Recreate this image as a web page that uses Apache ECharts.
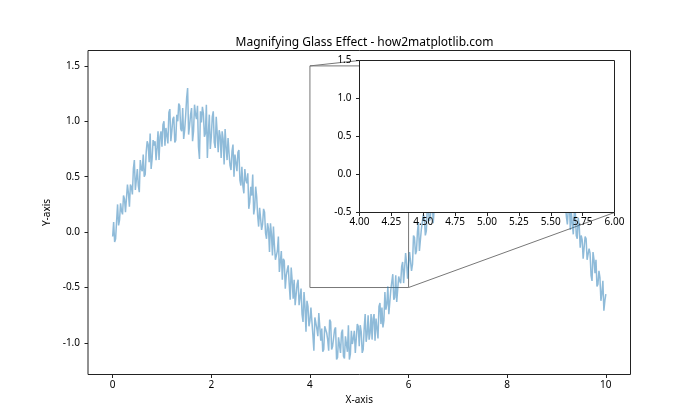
<!DOCTYPE html>
<html><head><meta charset="utf-8">
<script src="https://cdn.jsdelivr.net/npm/echarts@6/dist/echarts.min.js"></script>
<style>html,body{margin:0;padding:0;background:#fff}#c{width:700px;height:420px}</style>
</head><body><div id="c"></div>
<script>
const xs = [
0,0.02,0.04,0.06,0.08,0.1,0.12,0.14,0.16,0.18,0.2,0.22,0.24,0.26,0.28,0.3,0.32,0.34,0.36,0.38,0.4,0.42,0.44,0.46,0.48,0.5,0.52,0.54,0.56,0.58,0.6,0.62,0.64,0.66,0.68,0.7,0.72,0.74,0.76,0.78,0.8,0.82,0.84,0.86,0.88,0.9,0.92,0.94,0.96,0.98,
1,1.02,1.04,1.06,1.08,1.1,1.12,1.14,1.16,1.18,1.2,1.22,1.24,1.26,1.28,1.3,1.32,1.34,1.36,1.38,1.4,1.42,1.44,1.46,1.48,1.5,1.52,1.54,1.56,1.58,1.6,1.62,1.64,1.66,1.68,1.7,1.72,1.74,1.76,1.78,1.8,1.82,1.84,1.86,1.88,1.9,1.92,1.94,1.96,1.98,
2,2.02,2.04,2.06,2.08,2.1,2.12,2.14,2.16,2.18,2.2,2.22,2.24,2.26,2.28,2.3,2.32,2.34,2.36,2.38,2.4,2.42,2.44,2.46,2.48,2.5,2.52,2.54,2.56,2.58,2.6,2.62,2.64,2.66,2.68,2.7,2.72,2.74,2.76,2.78,2.8,2.82,2.84,2.86,2.88,2.9,2.92,2.94,2.96,2.98,
3,3.02,3.04,3.06,3.08,3.1,3.12,3.14,3.16,3.18,3.2,3.22,3.24,3.26,3.28,3.3,3.32,3.34,3.36,3.38,3.4,3.42,3.44,3.46,3.48,3.5,3.52,3.54,3.56,3.58,3.6,3.62,3.64,3.66,3.68,3.7,3.72,3.74,3.76,3.78,3.8,3.82,3.84,3.86,3.88,3.9,3.92,3.94,3.96,3.98,
4,4.02,4.04,4.06,4.08,4.1,4.12,4.14,4.16,4.18,4.2,4.22,4.24,4.26,4.28,4.3,4.32,4.34,4.36,4.38,4.4,4.42,4.44,4.46,4.48,4.5,4.52,4.54,4.56,4.58,4.6,4.62,4.64,4.66,4.68,4.7,4.72,4.74,4.76,4.78,4.8,4.82,4.84,4.86,4.88,4.9,4.92,4.94,4.96,4.98,
5,5.02,5.04,5.06,5.08,5.1,5.12,5.14,5.16,5.18,5.2,5.22,5.24,5.26,5.28,5.3,5.32,5.34,5.36,5.38,5.4,5.42,5.44,5.46,5.48,5.5,5.52,5.54,5.56,5.58,5.6,5.62,5.64,5.66,5.68,5.7,5.72,5.74,5.76,5.78,5.8,5.82,5.84,5.86,5.88,5.9,5.92,5.94,5.96,5.98,
6,6.02,6.04,6.06,6.08,6.1,6.12,6.14,6.16,6.18,6.2,6.22,6.24,6.26,6.28,6.3,6.32,6.34,6.36,6.38,6.4,6.42,6.44,6.46,6.48,6.5,6.52,6.54,6.56,6.58,6.6,6.62,6.64,6.66,6.68,6.7,6.72,6.74,6.76,6.78,6.8,6.82,6.84,6.86,6.88,6.9,6.92,6.94,6.96,6.98,
7,7.02,7.04,7.06,7.08,7.1,7.12,7.14,7.16,7.18,7.2,7.22,7.24,7.26,7.28,7.3,7.32,7.34,7.36,7.38,7.4,7.42,7.44,7.46,7.48,7.5,7.52,7.54,7.56,7.58,7.6,7.62,7.64,7.66,7.68,7.7,7.72,7.74,7.76,7.78,7.8,7.82,7.84,7.86,7.88,7.9,7.92,7.94,7.96,7.98,
8,8.02,8.04,8.06,8.08,8.1,8.12,8.14,8.16,8.18,8.2,8.22,8.24,8.26,8.28,8.3,8.32,8.34,8.36,8.38,8.4,8.42,8.44,8.46,8.48,8.5,8.52,8.54,8.56,8.58,8.6,8.62,8.64,8.66,8.68,8.7,8.72,8.74,8.76,8.78,8.8,8.82,8.84,8.86,8.88,8.9,8.92,8.94,8.96,8.98,
9,9.02,9.04,9.06,9.08,9.1,9.12,9.14,9.16,9.18,9.2,9.22,9.24,9.26,9.28,9.3,9.32,9.34,9.36,9.38,9.4,9.42,9.44,9.46,9.48,9.5,9.52,9.54,9.56,9.58,9.6,9.62,9.64,9.66,9.68,9.7,9.72,9.74,9.76,9.78,9.8,9.82,9.84,9.86,9.88,9.9,9.92,9.94,9.96,9.98,
10
];
const ys = [
-0.04,0.09,-0.09,-0.06,0.10,0.25,0.06,0.11,0.26,0.19,0.16,0.33,0.30,0.18,0.17,0.43,0.35,0.23,0.43,0.41,0.34,0.57,0.65,0.38,0.47,0.57,0.42,0.36,0.65,0.57,0.55,0.70,0.50,0.52,0.72,0.82,0.79,0.63,0.89,0.57,0.66,0.83,0.78,0.82,0.65,0.76,0.91,0.65,0.86,0.91,
0.77,0.97,1.00,0.78,0.94,0.93,0.80,1.08,1.11,0.82,0.91,1.02,1.04,0.81,0.83,1.06,1.00,1.16,1.14,0.93,0.91,1.12,0.84,0.92,1.05,1.21,1.30,0.88,0.96,1.06,1.12,0.82,0.91,1.15,1.06,1.02,1.14,0.77,0.66,1.09,0.99,1.13,1.07,0.86,0.89,1.15,0.67,0.89,1.06,0.75,
0.86,1.04,1.09,0.81,0.76,1.04,0.89,0.72,0.92,0.87,0.67,0.91,0.84,0.61,0.93,0.77,0.65,0.85,0.71,0.60,0.56,0.73,0.79,0.50,0.70,0.70,0.55,0.72,0.74,0.47,0.42,0.59,0.42,0.35,0.57,0.47,0.44,0.53,0.21,0.27,0.41,0.33,0.52,0.16,0.22,0.41,0.32,0.15,0.05,0.22,
0.23,0.02,0.07,0.21,0.18,-0.01,-0.06,0.08,0.03,-0.18,0.08,-0.02,-0.21,0.05,-0.12,-0.25,-0.24,-0.17,-0.04,-0.36,-0.35,-0.17,-0.43,-0.24,-0.26,-0.51,-0.39,-0.34,-0.30,-0.47,-0.61,-0.32,-0.44,-0.60,-0.43,-0.66,-0.67,-0.47,-0.43,-0.66,-0.66,-0.51,-0.74,-0.81,-0.54,-0.67,-0.90,-0.62,-0.67,-0.85,
-0.80,-0.68,-0.67,-0.93,-1.07,-0.77,-0.76,-0.87,-0.94,-0.73,-0.74,-0.98,-0.87,-1.08,-1.06,-0.85,-0.84,-0.91,-0.97,-1.07,-0.79,-0.81,-1.06,-1.03,-1.02,-0.88,-0.86,-1.15,-1.13,-0.95,-0.95,-1.09,-0.91,-0.88,-1.12,-1.14,-0.94,-0.94,-1.08,-0.84,-1.15,-1.10,-0.89,-1.01,-0.96,-0.89,-1.09,-1.10,-0.83,-0.85,
-1.03,-0.84,-0.90,-1.09,-1.06,-0.87,-0.74,-0.99,-0.92,-0.75,-0.97,-0.91,-0.74,-0.97,-0.78,-0.74,-0.98,-0.78,-0.77,-0.96,-0.67,-0.64,-0.83,-0.68,-0.86,-0.80,-0.54,-0.70,-0.65,-0.49,-0.74,-0.73,-0.52,-0.51,-0.38,-0.61,-0.59,-0.39,-0.63,-0.62,-0.40,-0.44,-0.46,-0.31,-0.27,-0.46,-0.45,-0.19,-0.28,-0.42,
-0.42,-0.18,-0.18,-0.35,-0.29,-0.03,-0.05,-0.20,-0.17,0.00,0.09,-0.17,-0.16,0.03,0.03,0.16,0.13,-0.03,0.01,0.22,0.25,0.10,0.12,0.25,0.28,0.08,0.09,0.36,0.37,0.22,0.33,0.49,0.24,0.40,0.53,0.31,0.36,0.53,0.51,0.33,0.36,0.64,0.62,0.50,0.72,0.60,0.51,0.73,0.66,0.55,
0.74,0.60,0.59,0.84,0.83,0.61,0.71,0.85,0.83,0.75,0.65,0.92,0.92,0.68,0.88,0.91,0.77,1.00,1.03,0.79,0.84,0.95,0.94,0.84,0.81,1.11,1.04,0.82,1.13,0.98,0.92,1.07,0.87,0.92,1.06,1.14,1.12,0.88,0.92,1.07,1.04,0.84,0.84,1.12,1.11,0.96,0.98,1.09,1.06,0.85,
0.86,1.09,1.03,0.89,1.08,1.02,0.90,1.10,0.98,0.82,0.82,1.01,1.07,0.87,0.87,1.02,0.98,0.74,0.78,0.93,0.88,0.96,0.99,0.72,0.73,0.83,0.76,0.93,0.87,0.67,0.60,0.81,0.78,0.56,0.69,0.74,0.56,0.76,0.74,0.55,0.54,0.70,0.65,0.43,0.40,0.55,0.53,0.38,0.58,0.53,
0.35,0.28,0.47,0.42,0.23,0.45,0.35,0.20,0.38,0.26,0.14,0.07,0.22,0.27,0.02,0.18,0.18,-0.02,0.17,0.19,-0.03,-0.06,0.13,0.06,-0.14,-0.03,-0.07,-0.24,-0.25,-0.04,-0.06,-0.25,-0.25,-0.15,-0.19,-0.39,-0.44,-0.18,-0.25,-0.37,-0.25,-0.49,-0.47,-0.35,-0.41,-0.62,-0.55,-0.44,-0.71,-0.62,
-0.56
];
const zoomX = [4, 6];
const zoomY = [-0.5, 1.5];
const mainXTicks = [0, 2, 4, 6, 8, 10];
const mainYTicks = [-1.0, -0.5, 0.0, 0.5, 1.0, 1.5];
const titleText = 'Magnifying Glass Effect - how2matplotlib.com';
const xName = 'X-axis';
const yName = 'Y-axis';

const FONT = 'Noto Sans';
const axisColor = '#222';
const boxColor = '#777';
const lbl = {color: '#000', fontFamily: FONT, fontSize: 10};

const chart = echarts.init(document.getElementById('c'), null, {renderer: 'canvas'});
const lineData = xs.map((x, i) => [x, ys[i]]);
const rectData = [
  [zoomX[0], zoomY[0]], [zoomX[0], zoomY[1]], [zoomX[1], zoomY[1]],
  [zoomX[1], zoomY[0]], [zoomX[0], zoomY[0]]
];

chart.setOption({
  animation: false,
  title: {
    text: titleText, left: 359.5, top: 32, textAlign: 'center',
    textStyle: {fontFamily: FONT, fontSize: 12, fontWeight: 'normal', color: '#000'}
  },
  grid: [
    {left: 88, top: 50.5, width: 542.5, height: 324, show: true, borderColor: axisColor, borderWidth: 1, backgroundColor: 'transparent', z: 0},
    {left: 359.5, top: 60.5, width: 255, height: 152, show: true, borderColor: axisColor, borderWidth: 1, backgroundColor: '#fff', z: 5}
  ],
  xAxis: [
    {
      type: 'value', gridIndex: 0, min: -0.5, max: 10.5, position: 'bottom',
      axisLine: {show: false, onZero: false}, splitLine: {show: false},
      axisTick: {show: true, length: 3.5, customValues: mainXTicks, lineStyle: {color: axisColor}},
      axisLabel: Object.assign({customValues: mainXTicks, margin: 6, formatter: v => String(v)}, lbl),
      name: xName, nameLocation: 'middle', nameGap: 21,
      nameTextStyle: {fontFamily: FONT, fontSize: 10, color: '#000'}
    },
    {
      type: 'value', gridIndex: 1, min: zoomX[0], max: zoomX[1], interval: 0.25, z: 6, position: 'bottom',
      axisLine: {show: false, onZero: false}, splitLine: {show: false},
      axisTick: {show: true, length: 3.5, lineStyle: {color: axisColor}},
      axisLabel: Object.assign({margin: 5, formatter: v => v.toFixed(2), showMinLabel: true, showMaxLabel: true}, lbl)
    }
  ],
  yAxis: [
    {
      type: 'value', gridIndex: 0, min: -1.285, max: 1.639, position: 'left',
      axisLine: {show: false, onZero: false}, splitLine: {show: false},
      axisTick: {show: true, length: 3.5, customValues: mainYTicks, lineStyle: {color: axisColor}},
      axisLabel: Object.assign({customValues: mainYTicks, margin: 8, formatter: v => v.toFixed(1)}, lbl),
      name: yName, nameLocation: 'middle', nameGap: 27,
      nameTextStyle: {fontFamily: FONT, fontSize: 10, color: '#000'}
    },
    {
      type: 'value', gridIndex: 1, min: zoomY[0], max: zoomY[1], interval: 0.5, z: 6, position: 'left',
      axisLine: {show: false, onZero: false}, splitLine: {show: false},
      axisTick: {show: true, length: 3.5, lineStyle: {color: axisColor}},
      axisLabel: Object.assign({margin: 8, formatter: v => v.toFixed(1), showMinLabel: true, showMaxLabel: true}, lbl)
    }
  ],
  series: [
    {
      type: 'line', xAxisIndex: 0, yAxisIndex: 0, data: rectData, symbol: 'none', silent: true, z: 1,
      lineStyle: {color: boxColor, width: 1}
    },
    {
      type: 'line', xAxisIndex: 0, yAxisIndex: 0, data: lineData, symbol: 'none', z: 2,
      lineStyle: {color: '#1f77b4', width: 1.5, opacity: 0.5}
    }
  ]
});

const a0 = chart.convertToPixel({xAxisIndex: 0, yAxisIndex: 0}, [zoomX[0], zoomY[1]]);
const a1 = chart.convertToPixel({xAxisIndex: 1, yAxisIndex: 1}, [zoomX[0], zoomY[1]]);
const b0 = chart.convertToPixel({xAxisIndex: 0, yAxisIndex: 0}, [zoomX[1], zoomY[0]]);
const b1 = chart.convertToPixel({xAxisIndex: 1, yAxisIndex: 1}, [zoomX[1], zoomY[0]]);
chart.setOption({
  graphic: [
    {type: 'line', z: 1, silent: true, shape: {x1: a0[0], y1: a0[1], x2: a1[0], y2: a1[1]}, style: {stroke: boxColor, lineWidth: 1}},
    {type: 'line', z: 1, silent: true, shape: {x1: b0[0], y1: b0[1], x2: b1[0], y2: b1[1]}, style: {stroke: boxColor, lineWidth: 1}}
  ]
});
</script>
</body></html>
